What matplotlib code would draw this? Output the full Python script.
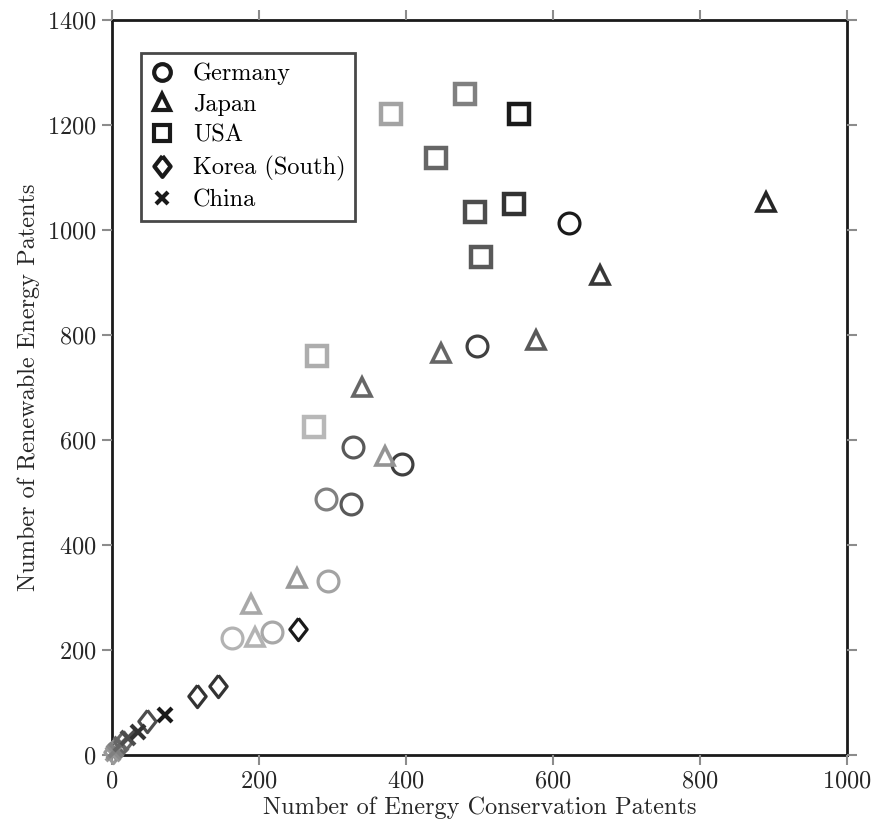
import matplotlib
matplotlib.use("Agg")
import matplotlib.pyplot as plt
from matplotlib.lines import Line2D

plt.rcParams["font.family"] = ["cmr10", "DejaVu Serif"]
plt.rcParams["mathtext.fontset"] = "cm"
plt.rcParams["axes.formatter.use_mathtext"] = True

# conservation patents (x), renewable patents (y), gray shade (older = lighter)
germany_x = [163, 218, 294, 291, 325, 328, 395, 497, 622]
germany_y = [223, 234, 331, 488, 478, 587, 554, 779, 1013]
germany_shade = [0.70, 0.66, 0.64, 0.50, 0.35, 0.35, 0.25, 0.25, 0.10]

japan_x = [195, 189, 252, 371, 340, 448, 577, 664, 890]
japan_y = [225, 288, 337, 570, 700, 766, 790, 914, 1053]
japan_shade = [0.70, 0.66, 0.60, 0.58, 0.40, 0.40, 0.35, 0.22, 0.15]

usa_x = [275, 279, 380, 480, 441, 502, 494, 547, 554]
usa_y = [625, 760, 1221, 1259, 1137, 949, 1034, 1050, 1221]
usa_shade = [0.72, 0.68, 0.64, 0.50, 0.40, 0.35, 0.30, 0.20, 0.10]

korea_x = [2, 5, 15, 48, 116, 144, 253]
korea_y = [5, 12, 25, 65, 112, 131, 240]
korea_shade = [0.60, 0.55, 0.40, 0.30, 0.20, 0.20, 0.10]

china_x = [1, 3, 6, 12, 22, 35, 72]
china_y = [2, 5, 10, 20, 32, 44, 76]
china_shade = [0.60, 0.55, 0.50, 0.40, 0.30, 0.20, 0.10]

diamond = [(0, 1), (0.78, 0), (0, -1), (-0.78, 0), (0, 1)]

# name, xs, ys, shades, marker, size, edge width, legend size
series = [
    ("Germany", germany_x, germany_y, germany_shade, "o", 15, 2.3, 12),
    ("Japan", japan_x, japan_y, japan_shade, "^", 13, 2.6, 12),
    ("USA", usa_x, usa_y, usa_shade, "s", 15, 3.2, 12),
    ("Korea (South)", korea_x, korea_y, korea_shade, diamond, 16, 2.3, 15),
    ("China", china_x, china_y, china_shade, "x", 10, 3, 9),
]

fig = plt.figure(figsize=(8.74, 8.24), dpi=100)
ax = fig.add_axes([0.128, 0.084, 0.841, 0.892])

handles = []
for name, xs, ys, shades, mk, ms, mew, lms in series:
    for x, y, s in zip(xs, ys, shades):
        col = str(s)
        if mk == "x":
            ax.plot(x, y, linestyle="none", marker=mk, ms=ms, mew=mew, color=col,
                    clip_on=False)
        else:
            ax.plot(x, y, linestyle="none", marker=mk, ms=ms, mew=mew,
                    mfc="none", mec=col, clip_on=False)
    if mk == "x":
        h = Line2D([], [], linestyle="none", marker=mk, ms=lms, mew=3, color="0.1")
    else:
        h = Line2D([], [], linestyle="none", marker=mk, ms=lms, mew=3,
                   mfc="none", mec="0.1")
    handles.append(h)

ax.set_xlim(0, 1000)
ax.set_ylim(0, 1400)
ax.set_xticks([0, 200, 400, 600, 800, 1000])
ax.set_yticks([0, 200, 400, 600, 800, 1000, 1200, 1400])
ax.tick_params(direction="out", length=7, width=1.5, color="0.55",
               labelsize=17.5, labelcolor="0.15", top=True, right=True, pad=4)
for sp in ax.spines.values():
    sp.set_linewidth(2)
    sp.set_color("0.1")
    sp.set_zorder(1)

ax.set_xlabel("Number of Energy Conservation Patents", fontsize=17.5, color="0.15",
              labelpad=3)
ax.set_ylabel("Number of Renewable Energy Patents", fontsize=17.5, color="0.15",
              labelpad=5)

leg = ax.legend(handles, [s[0] for s in series], loc="upper left",
                bbox_to_anchor=(0.039, 0.955), fontsize=17.5, frameon=True,
                fancybox=False, handlelength=1.0, handletextpad=0.75,
                borderpad=0.4, labelspacing=0.36, borderaxespad=0)
leg.get_frame().set_edgecolor("0.1")
leg.get_frame().set_linewidth(2)

fig.savefig("out.png", dpi=100)
